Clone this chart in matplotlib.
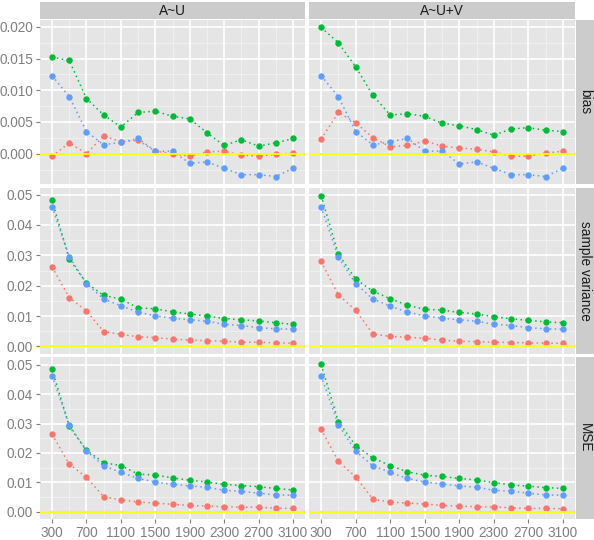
import matplotlib
matplotlib.use("Agg")
import matplotlib.pyplot as plt
import numpy as np

plt.rcParams["font.family"] = ["Liberation Sans", "DejaVu Sans"]

X = [300, 500, 700, 900, 1100, 1300, 1500, 1700, 1900, 2100, 2300, 2500, 2700, 2900, 3100]
FACETS = ["A~U", "A~U+V"]
ROWS = ["bias", "sample variance", "MSE"]
COLORS = {"red": "#F8766D", "green": "#00BA38", "blue": "#619CFF"}

# bias
bias_u_red = [-0.0004, 0.0017, 0.0000, 0.0028, 0.0019, 0.0021, 0.0004, 0.0000, -0.0004, 0.0003, 0.0004, -0.0002, -0.0004, -0.0001, 0.0001]
bias_u_green = [0.0152, 0.0147, 0.0087, 0.0061, 0.0042, 0.0065, 0.0067, 0.0059, 0.0055, 0.0033, 0.0013, 0.0022, 0.0012, 0.0017, 0.0024]
bias_u_blue = [0.0123, 0.0090, 0.0035, 0.0014, 0.0018, 0.0024, 0.0004, 0.0004, -0.0015, -0.0013, -0.0023, -0.0033, -0.0033, -0.0036, -0.0023]
bias_uv_red = [0.0023, 0.0065, 0.0049, 0.0025, 0.0011, 0.0013, 0.0020, 0.0012, 0.0009, 0.0007, 0.0003, -0.0004, -0.0004, 0.0001, 0.0004]
bias_uv_green = [0.0199, 0.0175, 0.0137, 0.0092, 0.0061, 0.0063, 0.0059, 0.0048, 0.0044, 0.0038, 0.0029, 0.0039, 0.0041, 0.0037, 0.0035]
bias_uv_blue = [0.0123, 0.0090, 0.0035, 0.0014, 0.0019, 0.0024, 0.0004, 0.0004, -0.0016, -0.0013, -0.0023, -0.0033, -0.0033, -0.0036, -0.0023]

# sample variance
var_u_red = [0.0262, 0.0161, 0.0117, 0.0049, 0.0040, 0.0032, 0.0029, 0.0024, 0.0021, 0.0019, 0.0017, 0.0014, 0.0014, 0.0012, 0.0011]
var_u_green = [0.0481, 0.0288, 0.0209, 0.0168, 0.0156, 0.0127, 0.0124, 0.0114, 0.0107, 0.0100, 0.0092, 0.0088, 0.0084, 0.0078, 0.0073]
var_u_blue = [0.0460, 0.0296, 0.0207, 0.0156, 0.0134, 0.0113, 0.0101, 0.0093, 0.0088, 0.0083, 0.0073, 0.0069, 0.0062, 0.0058, 0.0057]
var_uv_red = [0.0280, 0.0170, 0.0119, 0.0041, 0.0033, 0.0030, 0.0027, 0.0021, 0.0017, 0.0016, 0.0014, 0.0013, 0.0012, 0.0011, 0.0010]
var_uv_green = [0.0497, 0.0304, 0.0222, 0.0182, 0.0157, 0.0136, 0.0122, 0.0120, 0.0112, 0.0107, 0.0098, 0.0091, 0.0086, 0.0081, 0.0078]
var_uv_blue = [0.0460, 0.0294, 0.0207, 0.0156, 0.0133, 0.0113, 0.0101, 0.0093, 0.0088, 0.0083, 0.0073, 0.0069, 0.0062, 0.0058, 0.0057]

# MSE
mse_u_red = [0.0264, 0.0162, 0.0117, 0.0051, 0.0040, 0.0033, 0.0029, 0.0025, 0.0021, 0.0019, 0.0017, 0.0015, 0.0015, 0.0012, 0.0011]
mse_u_green = [0.0485, 0.0291, 0.0209, 0.0167, 0.0157, 0.0128, 0.0125, 0.0115, 0.0107, 0.0101, 0.0093, 0.0089, 0.0085, 0.0079, 0.0074]
mse_u_blue = [0.0463, 0.0296, 0.0207, 0.0156, 0.0134, 0.0113, 0.0101, 0.0093, 0.0088, 0.0083, 0.0073, 0.0069, 0.0063, 0.0057, 0.0056]
mse_uv_red = [0.0281, 0.0171, 0.0119, 0.0042, 0.0033, 0.0029, 0.0026, 0.0021, 0.0019, 0.0017, 0.0016, 0.0013, 0.0011, 0.0011, 0.0010]
mse_uv_green = [0.0502, 0.0307, 0.0225, 0.0183, 0.0157, 0.0136, 0.0124, 0.0120, 0.0113, 0.0108, 0.0099, 0.0091, 0.0087, 0.0082, 0.0079]
mse_uv_blue = [0.0463, 0.0296, 0.0206, 0.0156, 0.0134, 0.0113, 0.0101, 0.0094, 0.0088, 0.0083, 0.0073, 0.0070, 0.0063, 0.0057, 0.0056]

DATA = {
    ("bias", "A~U"): (bias_u_red, bias_u_green, bias_u_blue),
    ("bias", "A~U+V"): (bias_uv_red, bias_uv_green, bias_uv_blue),
    ("sample variance", "A~U"): (var_u_red, var_u_green, var_u_blue),
    ("sample variance", "A~U+V"): (var_uv_red, var_uv_green, var_uv_blue),
    ("MSE", "A~U"): (mse_u_red, mse_u_green, mse_u_blue),
    ("MSE", "A~U+V"): (mse_uv_red, mse_uv_green, mse_uv_blue),
}
Y_TICKS = {
    "bias": [0.0, 0.005, 0.010, 0.015, 0.020],
    "sample variance": [0.00, 0.01, 0.02, 0.03, 0.04, 0.05],
    "MSE": [0.00, 0.01, 0.02, 0.03, 0.04, 0.05],
}
Y_FMT = {"bias": "{:.3f}", "sample variance": "{:.2f}", "MSE": "{:.2f}"}
X_TICKS = [300, 700, 1100, 1500, 1900, 2300, 2700, 3100]

W, H = 594, 540
fig = plt.figure(figsize=(W / 100, H / 100), dpi=100)
fig.patch.set_facecolor("white")

col_x = [(40, 305), (309, 575)]
row_y = [(20, 184), (188, 354), (357, 519)]
strip_x = (576, 594)
strip_y = (2, 19)


def frac(x0, y0, x1, y1):
    return [x0 / W, 1 - y1 / H, (x1 - x0) / W, (y1 - y0) / H]


def ylims(row):
    vals = np.concatenate([np.ravel(DATA[(row, f)]) for f in FACETS] + [[0.0]])
    lo, hi = vals.min(), vals.max()
    pad = (hi - lo) * 0.05
    return lo - pad, hi + pad


def strip(rect, label, rot):
    sax = fig.add_axes(rect)
    sax.set_facecolor("#CCCCCC")
    sax.set_xticks([])
    sax.set_yticks([])
    for s in sax.spines.values():
        s.set_visible(False)
    sax.text(0.5, 0.5 if rot else 0.45, label, ha="center", va="center", rotation=rot,
             fontsize=9.8, color="#1A1A1A", transform=sax.transAxes)


xpad = (max(X) - min(X)) * 0.05
xlim = (min(X) - xpad, max(X) + xpad)

for r, row in enumerate(ROWS):
    ylim = ylims(row)
    yt = Y_TICKS[row]
    step = yt[1] - yt[0]
    yminor = np.arange(yt[0] - step / 2, ylim[1], step)
    xminor = np.array(X_TICKS[:-1]) + 200
    for c, facet in enumerate(FACETS):
        x0, x1 = col_x[c]
        y0, y1 = row_y[r]
        ax = fig.add_axes(frac(x0, y0, x1, y1))
        ax.set_facecolor("#E5E5E5")
        for s in ax.spines.values():
            s.set_visible(False)
        ax.set_xlim(*xlim)
        ax.set_ylim(*ylim)
        for v in yminor:
            ax.axhline(v, color="#F2F2F2", lw=0.6, zorder=0)
        for v in xminor:
            ax.axvline(v, color="#F2F2F2", lw=0.6, zorder=0)
        for v in yt:
            ax.axhline(v, color="white", lw=1.2, zorder=0.5)
        for v in X_TICKS:
            ax.axvline(v, color="white", lw=1.2, zorder=0.5)

        for vals, key in zip(DATA[(row, facet)], ["red", "green", "blue"]):
            ax.plot(X, vals, ls=(0, (1, 2.2)), lw=1.1, color=COLORS[key], zorder=2)
            ax.plot(X, vals, ls="none", marker="o", ms=4.6, mec="none", color=COLORS[key], zorder=3)
        ax.axhline(0, color="#FFFF00", lw=1.3, zorder=4)

        ax.set_yticks(yt)
        ax.set_xticks(X_TICKS)
        ax.tick_params(colors="#7F7F7F", length=3, width=0.8, labelsize=9.8, pad=2)
        if c == 0:
            ax.set_yticklabels([Y_FMT[row].format(v) for v in yt], color="#7F7F7F")
        else:
            ax.tick_params(axis="y", length=0, labelleft=False)
        if r == len(ROWS) - 1:
            ax.set_xticklabels([str(v) for v in X_TICKS], color="#7F7F7F")
        else:
            ax.tick_params(axis="x", length=0, labelbottom=False)

        if r == 0:
            strip(frac(x0, strip_y[0], x1, strip_y[1]), facet, 0)

    strip(frac(strip_x[0], row_y[r][0], strip_x[1], row_y[r][1]), row, -90)

fig.savefig("out.png", dpi=100)
